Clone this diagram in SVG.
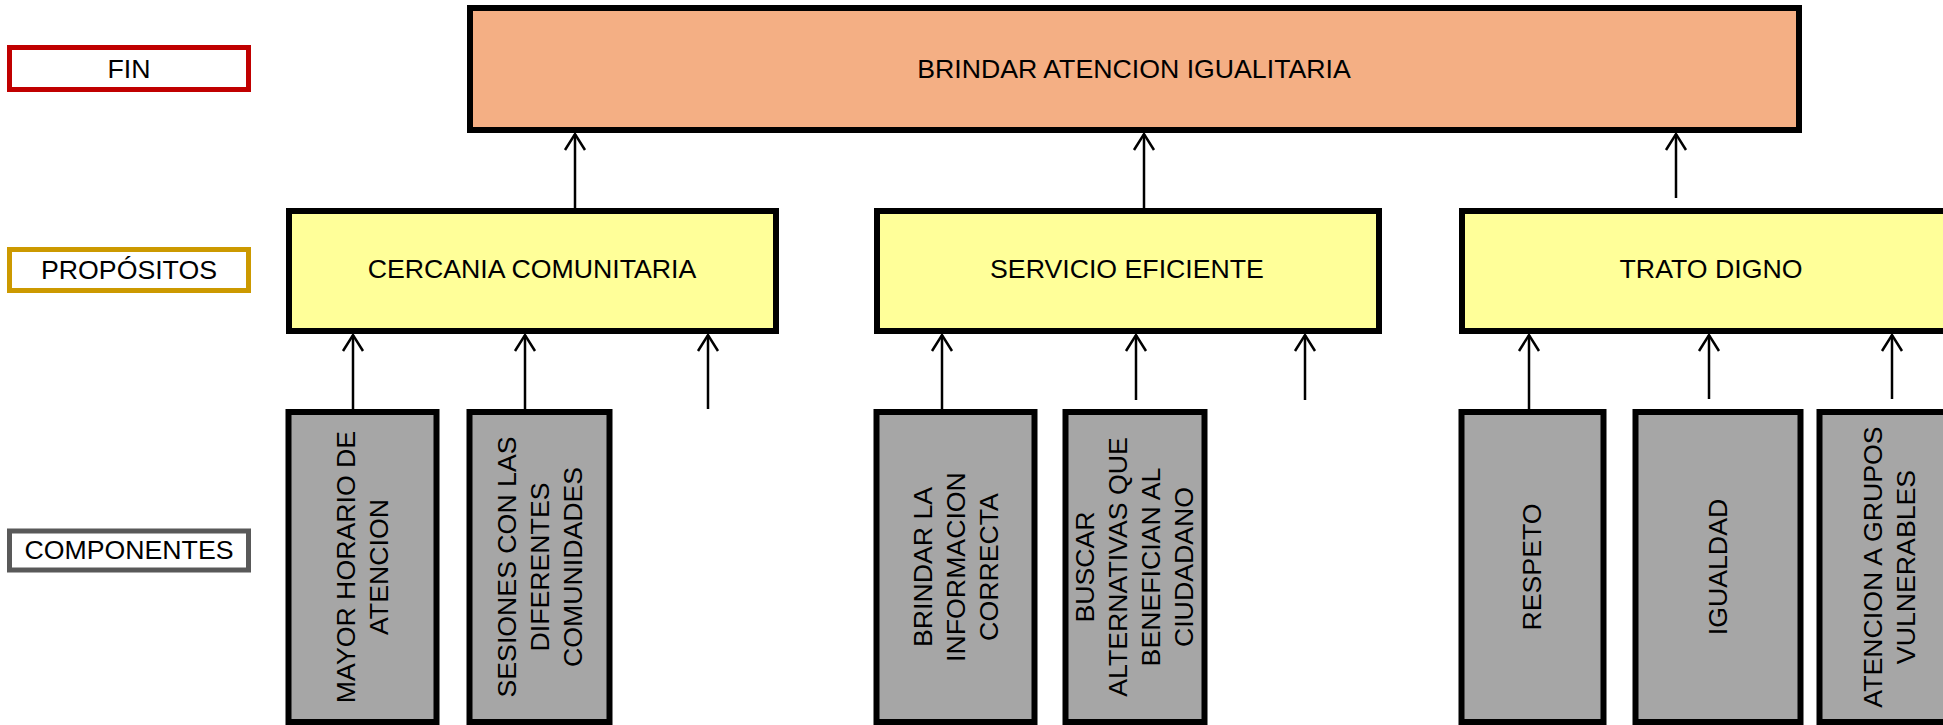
<svg xmlns="http://www.w3.org/2000/svg" width="1943" height="725" viewBox="0 0 1943 725">
<defs>
<style>
text{font-family:"Liberation Sans",Arial,sans-serif;font-size:26.7px;fill:#000;text-anchor:middle}
.fin{fill:#F4AF84;stroke:#000;stroke-width:6}
.prop{fill:#FFFF99;stroke:#000;stroke-width:6}
.comp{fill:#A6A6A6;stroke:#000;stroke-width:6}
.lbl{fill:#fff;stroke-width:5}
.conn line{stroke:#000;stroke-width:2.5;marker-end:url(#ah)}
</style>
<marker id="ah" markerUnits="userSpaceOnUse" markerWidth="26" markerHeight="26" refX="20" refY="12" orient="auto">
<path d="M4,2 L20,12 L4,22" fill="none" stroke="#000" stroke-width="2.5"/>
</marker>
</defs>
<rect width="1943" height="725" fill="#fff"/>

<g id="label-fin"><rect class="lbl" x="9.5" y="47.5" width="239" height="42" stroke="#C00000"/><text x="129" y="78">FIN</text></g>
<g id="label-propositos"><rect class="lbl" x="9.5" y="249.5" width="239" height="41" stroke="#CC9900"/><text x="129" y="279">PROPÓSITOS</text></g>
<g id="label-componentes"><rect class="lbl" x="9.5" y="531" width="239" height="39" stroke="#595959"/><text x="129" y="559">COMPONENTES</text></g>

<g id="fin"><rect class="fin" x="470" y="8" width="1329" height="122"/><text x="1134" y="78">BRINDAR ATENCION IGUALITARIA</text></g>

<g id="prop-cercania"><rect class="prop" x="289" y="211" width="487" height="120"/><text x="532" y="277.5">CERCANIA COMUNITARIA</text></g>
<g id="prop-servicio"><rect class="prop" x="877" y="211" width="502" height="120"/><text x="1127" y="277.5">SERVICIO EFICIENTE</text></g>
<g id="prop-trato"><rect class="prop" x="1462" y="211" width="497" height="120"/><text x="1711" y="277.5">TRATO DIGNO</text></g>

<g id="comp-mayor"><rect class="comp" x="288.5" y="412" width="148" height="310"/>
<text transform="translate(362,567) rotate(-90)"><tspan x="0" y="-7">MAYOR HORARIO DE</tspan><tspan x="0" y="26">ATENCION</tspan></text></g>
<g id="comp-sesiones"><rect class="comp" x="469.5" y="412" width="140" height="310"/>
<text transform="translate(539,567) rotate(-90)"><tspan x="0" y="-23.5">SESIONES CON LAS</tspan><tspan x="0" y="9.5">DIFERENTES</tspan><tspan x="0" y="42.5">COMUNIDADES</tspan></text></g>
<g id="comp-brindar"><rect class="comp" x="876.5" y="412" width="158" height="310"/>
<text transform="translate(955,567) rotate(-90)"><tspan x="0" y="-23.5">BRINDAR LA</tspan><tspan x="0" y="9.5">INFORMACION</tspan><tspan x="0" y="42.5">CORRECTA</tspan></text></g>
<g id="comp-buscar"><rect class="comp" x="1065.5" y="412" width="139" height="310"/>
<text transform="translate(1134,567) rotate(-90)"><tspan x="0" y="-40">BUSCAR</tspan><tspan x="0" y="-7">ALTERNATIVAS QUE</tspan><tspan x="0" y="26">BENEFICIAN AL</tspan><tspan x="0" y="59">CIUDADANO</tspan></text></g>
<g id="comp-respeto"><rect class="comp" x="1461.5" y="412" width="142" height="310"/>
<text transform="translate(1531,567) rotate(-90)"><tspan x="0" y="9.5">RESPETO</tspan></text></g>
<g id="comp-igualdad"><rect class="comp" x="1635.5" y="412" width="165" height="310"/>
<text transform="translate(1717,567) rotate(-90)"><tspan x="0" y="9.5">IGUALDAD</tspan></text></g>
<g id="comp-atencion"><rect class="comp" x="1819.5" y="412" width="143" height="310"/>
<text transform="translate(1889,567) rotate(-90)"><tspan x="0" y="-7">ATENCION A GRUPOS</tspan><tspan x="0" y="26">VULNERABLES</tspan></text></g>

<g id="connectors" class="conn">
<line x1="575" y1="208" x2="575" y2="134"/>
<line x1="1144" y1="208" x2="1144" y2="134"/>
<line x1="1676" y1="198" x2="1676" y2="134"/>
<line x1="353" y1="409" x2="353" y2="335"/>
<line x1="525" y1="409" x2="525" y2="335"/>
<line x1="708" y1="409" x2="708" y2="335"/>
<line x1="942" y1="409" x2="942" y2="335"/>
<line x1="1136" y1="400" x2="1136" y2="335"/>
<line x1="1305" y1="400" x2="1305" y2="335"/>
<line x1="1529" y1="409" x2="1529" y2="335"/>
<line x1="1709" y1="399" x2="1709" y2="335"/>
<line x1="1892" y1="399" x2="1892" y2="335"/>
</g>
</svg>
